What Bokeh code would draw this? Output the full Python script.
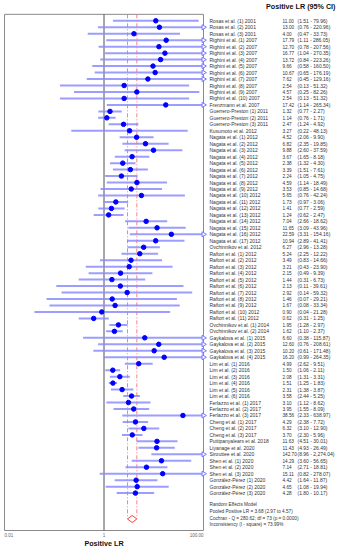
import numpy as np
from bokeh.plotting import figure
from bokeh.models import Range1d, ColumnDataSource, LinearScale
from bokeh.core.properties import value
from bokeh.embed import file_html
from bokeh.resources import INLINE

studies = [
    "Rosas et al. (1) 2001", "Rosas et al. (2) 2001", "Rosas et al. (3) 2001",
    "Righini et al. (1) 2007", "Righini et al. (2) 2007", "Righini et al. (3) 2007",
    "Righini et al. (4) 2007", "Righini et al. (5) 2007", "Righini et al. (6) 2007",
    "Righini et al. (7) 2007", "Righini et al. (8) 2007", "Righini et al. (9) 2007",
    "Righini et al. (10) 2007", "Frenzmann et al. 2007",
    "Guerrero-Preston (1) 2011", "Guerrero-Preston (2) 2011", "Guerrero-Preston (3) 2011",
    "Kusumoto et al. 2012",
    "Nagata et al. (1) 2012", "Nagata et al. (2) 2012", "Nagata et al. (3) 2012",
    "Nagata et al. (4) 2012", "Nagata et al. (5) 2012", "Nagata et al. (6) 2012",
    "Nagata et al. (7) 2012", "Nagata et al. (8) 2012", "Nagata et al. (9) 2012",
    "Nagata et al. (10) 2012", "Nagata et al. (11) 2012", "Nagata et al. (12) 2012",
    "Nagata et al. (13) 2012", "Nagata et al. (14) 2012", "Nagata et al. (15) 2012",
    "Nagata et al. (16) 2012", "Nagata et al. (17) 2012",
    "Ovchinnikov et al. 2012",
    "Raftori et al. (1) 2012", "Raftori et al. (2) 2012", "Raftori et al. (3) 2012",
    "Raftori et al. (4) 2012", "Raftori et al. (5) 2012", "Raftori et al. (6) 2012",
    "Raftori et al. (7) 2012", "Raftori et al. (8) 2012", "Raftori et al. (9) 2012",
    "Raftori et al. (10) 2012", "Raftori et al. (11) 2012",
    "Ovchinnikov et al. (1) 2014", "Ovchinnikov et al. (2) 2014",
    "Gaykalova et al. (1) 2015", "Gaykalova et al. (2) 2015",
    "Gaykalova et al. (3) 2015", "Gaykalova et al. (4) 2015",
    "Lim et al. (1) 2016", "Lim et al. (2) 2016", "Lim et al. (3) 2016",
    "Lim et al. (4) 2016", "Lim et al. (5) 2016", "Lim et al. (6) 2016",
    "Ferlazzo et al. (1) 2017", "Ferlazzo et al. (2) 2017", "Ferlazzo et al. (3) 2017",
    "Cheng et al. (1) 2017", "Cheng et al. (2) 2017", "Cheng et al. (3) 2017",
    "Puttipanyalears et al. 2018", "Liyanage et al. 2020", "Sirouttee et al. 2020",
    "Shen et al. (1) 2020", "Shen et al. (2) 2020", "Shen et al. (3) 2020",
    "González-Pérez (1) 2020", "González-Pérez (2) 2020", "González-Pérez (3) 2020",
]
lr = [11.00, 13.00, 4.00, 17.79, 12.70, 16.77, 13.72, 9.66, 10.67, 7.62, 2.54, 4.57, 2.54, 17.42,
      1.32, 1.14, 2.47, 3.27,
      4.52, 6.82, 9.88, 3.67, 2.38, 3.39, 2.24, 4.59, 3.53, 5.65, 1.73, 1.41, 1.24, 7.04, 11.65, 22.59, 10.94,
      6.27,
      5.24, 3.49, 3.21, 2.15, 1.44, 2.13, 2.92, 1.46, 1.67, 0.90, 0.62,
      1.95, 1.62,
      6.60, 12.60, 10.20, 16.20,
      4.99, 1.50, 2.08, 1.51, 2.31, 3.58,
      3.10, 3.95, 38.56,
      4.29, 6.32, 3.70,
      11.63, 11.43, 142.70,
      14.29, 7.14, 15.11,
      4.42, 4.65, 4.28]
lower = [1.51, 0.76, 0.47, 1.11, 0.78, 1.04, 0.84, 0.58, 0.65, 0.45, 0.13, 0.25, 0.13, 1.14,
         0.77, 0.76, 1.24, 0.22,
         2.06, 2.35, 2.60, 1.65, 1.32, 1.51, 1.05, 1.14, 0.85, 0.76, 0.97, 0.77, 0.62, 2.66, 3.09, 3.31, 2.89,
         2.96,
         2.25, 0.83, 0.43, 0.49, 0.31, 0.11, 0.14, 0.07, 0.08, 0.04, 0.31,
         1.28, 1.10,
         0.38, 0.76, 0.61, 0.99,
         2.62, 1.06, 1.31, 1.25, 1.38, 2.44,
         1.12, 1.55, 2.33,
         2.38, 3.10, 2.30,
         4.51, 4.93, 8.96,
         3.60, 2.71, 0.82,
         1.64, 1.08, 1.80]
upper = [79.96, 220.96, 33.73, 286.05, 207.56, 270.35, 223.26, 160.50, 176.19, 129.16, 51.32, 82.26, 51.32, 265.34,
         2.27, 1.71, 4.92, 48.13,
         9.90, 19.85, 37.59, 8.18, 4.30, 7.61, 4.75, 18.49, 14.68, 42.24, 3.06, 2.59, 2.47, 18.62, 43.96, 154.16, 41.41,
         13.28,
         12.22, 14.66, 23.90, 9.39, 6.73, 39.61, 59.32, 29.21, 33.34, 21.28, 1.25,
         2.97, 2.37,
         115.87, 208.61, 171.48, 264.35,
         9.51, 2.11, 3.31, 1.83, 3.87, 5.25,
         8.62, 8.09, 638.97,
         7.72, 12.90, 5.96,
         30.01, 26.49, 2274.04,
         56.65, 18.81, 278.07,
         11.87, 19.94, 10.17]

pooled = 3.68
pooled_lo = 2.97
pooled_hi = 4.57
summary_lines = [
    "Random Effects Model",
    "Pooled Positive LR = 3.68 (2.97 to 4.57)",
    "Cochran - Q = 280.62; df = 73 (p = 0.0000)",
    "Inconsistency (I - square) = 73.99%",
]
tick_vals = [0.01, 1, 100]
tick_labels = ["0.01", "1", "100.00"]
x_min, x_max = 0.01, 100

W, H = 341, 550
D = 49.75                 # px per decade
xs_log = -2 - 4.0 / D
xe_log = xs_log + W / D
row0_px, row_h = 20.3, 6.47
y_top = 1 - row0_px / row_h
y_bot = 1 + (H - row0_px) / row_h

FONT = value("Liberation Sans")

p = figure(width=W, height=H, x_axis_type="log",
           x_range=Range1d(10 ** xs_log, 10 ** xe_log),
           y_range=Range1d(y_bot, y_top),
           output_backend="svg", toolbar_location=None, min_border=0)
p.extra_x_ranges = {"px": Range1d(0, W)}
p.extra_x_scales = {"px": LinearScale()}
p.axis.visible = False
p.grid.visible = False
p.outline_line_color = None
p.background_fill_color = "white"

n = len(studies)
rows = np.arange(1, n + 1)
lr_a = np.array(lr)
lo_a = np.array(lower)
up_a = np.array(upper)
box_bottom = 79.78
diamond_row = 78.0

src = ColumnDataSource(dict(
    row=rows, lr=lr_a, lo=lo_a, up=np.minimum(up_a, x_max), study=studies,
    est=[f"{v:.2f}" for v in lr],
    ci=[f"({a:,.2f} - {b:,.2f})" for a, b in zip(lower, upper)],
))
inside = lr_a <= x_max
pts = ColumnDataSource(dict(row=rows[inside], lr=lr_a[inside]))

# frame box
p.quad(left=x_min, right=x_max, top=0, bottom=box_bottom,
       fill_color=None, line_color="#8a8a8a", line_width=1)
# line of no effect
p.segment(x0=1, y0=0, x1=1, y1=box_bottom, line_color="#505050", line_width=1)
# pooled CI lines
p.segment(x0=[pooled_lo, pooled_hi], y0=[0, 0], x1=[pooled_lo, pooled_hi],
          y1=[diamond_row, diamond_row], line_color="#ff6060", line_alpha=0.8,
          line_width=1, line_dash="4 2 1 2")
# study CIs
p.segment(x0="lo", y0="row", x1="up", y1="row", source=src,
          line_color="#8c8cff", line_width=2, line_alpha=0.85)
# arrows for truncated CIs
trunc = up_a > x_max
p.scatter(x=[x_max] * int(trunc.sum()), y=rows[trunc], marker="triangle",
          angle=-np.pi / 2, size=5, fill_color="white", line_color="#7777ff",
          line_width=1)
# point estimates
p.scatter(x="lr", y="row", source=pts, size=4.5, color="#0000ff")
# pooled diamond
p.patch(x=[pooled_lo, pooled, pooled_hi, pooled],
        y=[diamond_row, diamond_row - 0.55, diamond_row, diamond_row + 0.55],
        fill_color="white", line_color="#ff4040", line_width=1)

LBL = dict(text_font=FONT, text_font_size="5px", text_baseline="middle", text_color="#333333")
NUM = dict(text_font=FONT, text_font_size="4.7px", text_baseline="middle", text_color="#333333")
CI = dict(text_font=FONT, text_font_size="5px", text_baseline="middle", text_color="#333333")
SUM = dict(text_font=FONT, text_font_size="4.7px", text_baseline="middle", text_color="#333333")
# text columns
p.text(x=209, y="row", text="study", source=src, x_range_name="px", **LBL)
p.text(x=282, y="row", text="est", source=src, x_range_name="px", **NUM)
p.text(x=297, y="row", text="ci", source=src, x_range_name="px", **CI)
p.text(x=[209] * 4, y=[75.8, 76.8, 77.85, 78.8], text=summary_lines, x_range_name="px", **SUM)

# title
p.text(x=[335], y=[-1.2], text=["Positive LR (95% CI)"], x_range_name="px",
       text_font=FONT, text_font_size="7.2px", text_font_style="bold",
       text_baseline="middle", text_align="right", text_color="#111111")

# tick labels
p.text(x=tick_vals, y=[80.45] * 3, text=tick_labels, text_align=["left", "center", "right"],
       text_font=FONT, text_font_size="4.5px", text_baseline="middle", text_color="#666666")
# axis title
p.text(x=[1], y=[81.85], text=["Positive LR"], text_align="center",
       text_font=FONT, text_font_size="7.2px", text_font_style="bold",
       text_baseline="middle", text_color="#111111")

open("out.html", "w").write(file_html(p, INLINE))
